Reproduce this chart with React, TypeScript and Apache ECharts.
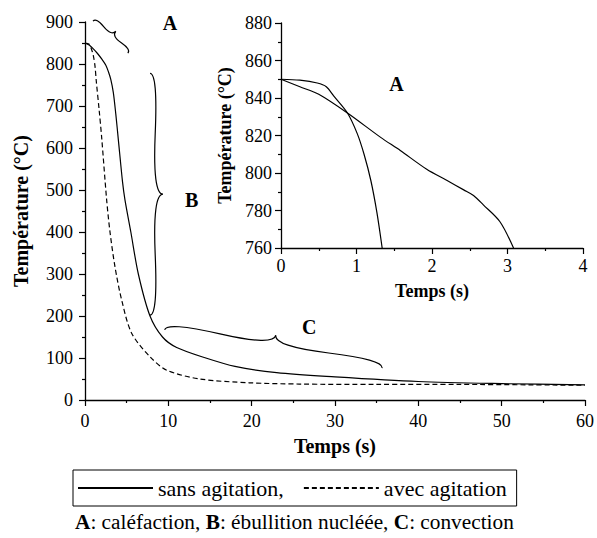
import React, { useEffect, useRef } from "react";
import * as echarts from "echarts";

// ---------- Data ----------
// Main chart: temperature (°C) vs time (s)
const sansTime = [0, 0.5, 1, 1.5, 2, 2.5, 2.8, 3.1, 3.4, 3.7, 4.0, 4.5, 4.8, 5.5, 6.4, 7.8, 9.3, 11, 14.5, 18, 23, 30, 40, 50, 60];
const sansTemp = [850, 845, 836, 825, 812, 797, 782, 763, 732, 680, 620, 520, 476, 400, 300, 200, 150, 125, 100, 80, 65, 55, 44, 39, 36];

const avecTime = [0, 0.5, 0.8, 1.0, 1.2, 1.35, 1.7, 2.0, 2.6, 3.0, 3.6, 4.4, 5.6, 7.8, 9.8, 13.8, 19.7, 25.7, 35, 45, 60];
const avecTemp = [850, 847, 834, 820, 795, 760, 690, 625, 476, 400, 317, 238, 159, 103, 71, 50, 41, 38, 37, 37, 35];

// Inset (zoom on first seconds)
const insetSlowTime = [0, 0.25, 0.5, 0.88, 1.32, 1.58, 1.93, 2.2, 2.42, 2.55, 2.68, 2.9, 3.08];
const insetSlowTemp = [850, 846, 842, 832, 819, 812, 802, 796, 791, 788, 783, 774, 760];
const insetFastTime = [0, 0.25, 0.48, 0.6, 0.7, 0.88, 1.01, 1.1, 1.19, 1.27, 1.34];
const insetFastTemp = [850, 849.5, 848, 846, 841, 832, 821, 810, 796, 779, 760];

// Braces (from point -> to point, in data coordinates of main chart)
const braceFrom = [[0.96, 902], [7.8, 778], [9.56, 167]];
const braceTo = [[5.14, 826], [7.8, 202], [35.65, 76]];
const braceDepth = [-8, -13, -14];

// Region letters
const mainLetters = ["A", "B", "C"];
const mainLetterPos = [[10.2, 898], [12.8, 476], [26.9, 175]];
const insetLetters = ["A"];
const insetLetterPos = [[1.53, 847.4]];

const legendNames = ["sans agitation,", "avec agitation"];
const footnote = "{b|A}: caléfaction, {b|B}: ébullition nucléée, {b|C}: convection";

// ---------- helpers ----------
const zip = (xs: number[], ys: number[]) => xs.map((x, i) => [x, ys[i]]);

function bracePath(x1: number, y1: number, x2: number, y2: number, w: number, q: number) {
  let dx = x1 - x2;
  let dy = y1 - y2;
  const len = Math.sqrt(dx * dx + dy * dy);
  dx /= len;
  dy /= len;
  const qx1 = x1 + q * w * dy;
  const qy1 = y1 - q * w * dx;
  const qx2 = x1 - 0.25 * len * dx + (1 - q) * w * dy;
  const qy2 = y1 - 0.25 * len * dy - (1 - q) * w * dx;
  const tx1 = x1 - 0.5 * len * dx + w * dy;
  const ty1 = y1 - 0.5 * len * dy - w * dx;
  const cx1 = 2 * qx2 - qx1;
  const cy1 = 2 * qy2 - qy1;
  const qx3 = x2 + q * w * dy;
  const qy3 = y2 - q * w * dx;
  const qx4 = x1 - 0.75 * len * dx + (1 - q) * w * dy;
  const qy4 = y1 - 0.75 * len * dy - (1 - q) * w * dx;
  const cx2 = 2 * qx4 - qx3;
  const cy2 = 2 * qy4 - qy3;
  return (
    `M${x1} ${y1} Q${qx1} ${qy1} ${qx2} ${qy2} Q${cx1} ${cy1} ${tx1} ${ty1} ` +
    `M${x2} ${y2} Q${qx3} ${qy3} ${qx4} ${qy4} Q${cx2} ${cy2} ${tx1} ${ty1}`
  );
}

const FONT = "Liberation Serif";

export default function App() {
  const ref = useRef<HTMLDivElement>(null);

  useEffect(() => {
    document.body.style.margin = "0";
    if (!ref.current) return;
    const chart = echarts.init(ref.current, undefined, { renderer: "svg" });

    const axisLine = { show: true, lineStyle: { color: "#000", width: 1.3 } };
    const axisTick = { show: true, inside: false, length: 6, lineStyle: { color: "#000", width: 1.2 } };
    const minorTick = { show: true, splitNumber: 2, length: 3, lineStyle: { color: "#000", width: 1.2 } };
    const lbl = (margin: number) => ({ color: "#000", fontFamily: FONT, fontSize: 18, fontWeight: "normal", margin });
    const nameStyle = (size: number) => ({ color: "#000", fontFamily: FONT, fontSize: size, fontWeight: "bold" as const });

    const braceData = braceFrom.map((f, i) => [f[0], f[1], braceTo[i][0], braceTo[i][1], braceDepth[i]]);

    const letterSeries = (letters: string[], pos: number[][], idx: number) => ({
      type: "custom",
      xAxisIndex: idx,
      yAxisIndex: idx,
      silent: true,
      data: pos.map((p, i) => [p[0], p[1], i]),
      renderItem: (params: any, api: any) => {
        const pt = api.coord([api.value(0), api.value(1)]);
        return {
          type: "text",
          x: pt[0],
          y: pt[1],
          style: {
            text: letters[api.value(2)],
            fill: "#000",
            fontFamily: FONT,
            fontSize: 20,
            fontWeight: "bold",
            align: "center",
            verticalAlign: "middle",
          },
        };
      },
    });

    const option: any = {
      animation: false,
      backgroundColor: "#fff",
      textStyle: { fontFamily: FONT },
      title: {
        text: footnote,
        left: 75,
        top: 511,
        padding: 0,
        textStyle: {
          color: "#000",
          fontFamily: FONT,
          fontSize: 21.3,
          fontWeight: "normal",
          rich: {
            b: { fontFamily: FONT, fontSize: 21.3, fontWeight: "bold", color: "#000" },
          },
        },
      },
      legend: {
        data: legendNames,
        left: 73,
        top: 470,
        orient: "horizontal",
        itemWidth: 75,
        itemHeight: 14,
        itemGap: 19,
        borderColor: "#000",
        borderWidth: 1,
        padding: [6, 10, 6, 4],
        selectedMode: false,
        itemStyle: { color: "transparent", borderColor: "transparent", borderWidth: 0, opacity: 0 },
        textStyle: { color: "#000", fontFamily: FONT, fontSize: 22, fontWeight: "normal", lineHeight: 24 },
      },
      grid: [
        { left: 85, top: 22, right: 10, bottom: 138 },
        { left: 281, top: 23, right: 14, bottom: 290 },
      ],
      xAxis: [
        {
          type: "value",
          gridIndex: 0,
          min: 0,
          max: 60,
          interval: 10,
          name: "Temps (s)",
          nameLocation: "middle",
          nameGap: 36,
          nameTextStyle: nameStyle(20),
          axisLine,
          axisTick,
          minorTick,
          splitLine: { show: false },
          axisLabel: lbl(12),
        },
        {
          type: "value",
          gridIndex: 1,
          min: 0,
          max: 4,
          interval: 1,
          name: "Temps (s)",
          nameLocation: "middle",
          nameGap: 34,
          nameTextStyle: nameStyle(18),
          axisLine,
          axisTick,
          minorTick,
          splitLine: { show: false },
          axisLabel: lbl(9),
        },
      ],
      yAxis: [
        {
          type: "value",
          gridIndex: 0,
          min: 0,
          max: 900,
          interval: 100,
          name: "Température (°C)",
          nameLocation: "middle",
          nameGap: 54,
          nameTextStyle: nameStyle(20),
          axisLine,
          axisTick,
          minorTick,
          splitLine: { show: false },
          axisLabel: lbl(12),
        },
        {
          type: "value",
          gridIndex: 1,
          min: 760,
          max: 880,
          interval: 20,
          name: "Température (°C)",
          nameLocation: "middle",
          nameGap: 41,
          nameTextStyle: nameStyle(18),
          axisLine,
          axisTick,
          minorTick,
          splitLine: { show: false },
          axisLabel: lbl(9),
        },
      ],
      series: [
        {
          name: legendNames[0],
          type: "line",
          xAxisIndex: 0,
          yAxisIndex: 0,
          data: zip(sansTime, sansTemp),
          symbol: "none",
          smooth: 0.3,
          lineStyle: { color: "#000", width: 1.2, type: "solid" },
          itemStyle: { color: "#000" },
        },
        {
          name: legendNames[1],
          type: "line",
          xAxisIndex: 0,
          yAxisIndex: 0,
          data: zip(avecTime, avecTemp),
          symbol: "none",
          smooth: 0.3,
          lineStyle: { color: "#000", width: 1.2, type: [5, 3] },
          itemStyle: { color: "#000" },
        },
        {
          name: "inset sans",
          type: "line",
          xAxisIndex: 1,
          yAxisIndex: 1,
          data: zip(insetSlowTime, insetSlowTemp),
          symbol: "none",
          smooth: 0.3,
          lineStyle: { color: "#000", width: 1.2 },
        },
        {
          name: "inset avec",
          type: "line",
          xAxisIndex: 1,
          yAxisIndex: 1,
          data: zip(insetFastTime, insetFastTemp),
          symbol: "none",
          smooth: 0.3,
          lineStyle: { color: "#000", width: 1.2 },
        },
        {
          type: "custom",
          xAxisIndex: 0,
          yAxisIndex: 0,
          silent: true,
          clip: false,
          data: braceData,
          renderItem: (params: any, api: any) => {
            const p1 = api.coord([api.value(0), api.value(1)]);
            const p2 = api.coord([api.value(2), api.value(3)]);
            const w = api.value(4);
            return {
              type: "path",
              shape: { pathData: bracePath(p1[0], p1[1], p2[0], p2[1], w, 0.6) },
              style: { stroke: "#000", fill: "none", lineWidth: 1.2 },
            };
          },
        },
        letterSeries(mainLetters, mainLetterPos, 0),
        letterSeries(insetLetters, insetLetterPos, 1),
      ],
    };

    chart.setOption(option);
    return () => chart.dispose();
  }, []);

  return <div ref={ref} style={{ width: 597, height: 538 }} />;
}
